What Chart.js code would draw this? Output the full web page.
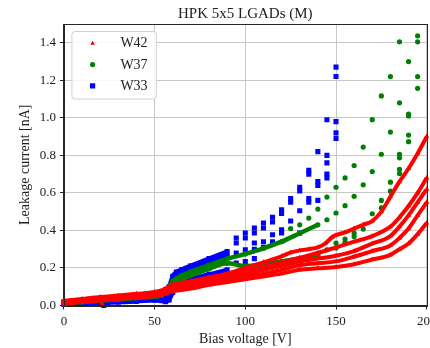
<!DOCTYPE html>
<html>
<head>
<meta charset="utf-8">
<title>HPK 5x5 LGADs (M)</title>
<script src="https://cdn.jsdelivr.net/npm/chart.js@4.4.1/dist/chart.umd.min.js"></script>
<style>
  html, body { margin: 0; padding: 0; background: #fff; overflow: hidden; }
  #wrap { width: 445px; height: 348px; }
</style>
</head>
<body>
<div id="wrap"><canvas id="ivChart" width="445" height="348"></canvas></div>
<script>
/*
 * IV curves, HPK 5x5 LGADs (M)
 */

const wafers = ['W42', 'W37', 'W33'];
const waferColors = ['rgb(255, 0, 0)', 'rgb(0, 128, 0)', 'rgb(0, 0, 255)'];

const xTicks = [0, 50, 100, 150, 200];
const yTicks = [0.0, 0.2, 0.4, 0.6, 0.8, 1.0, 1.2, 1.4];

// W42 - dense sweeps, one array per pad
const w42VoltsA = [0, 10, 20, 30, 40, 50, 55, 60, 70, 80, 90, 100, 110, 120, 125, 130, 135, 140, 144, 148, 150, 155, 160, 165, 170, 175, 180, 185, 190, 195, 200];
const w42PadA = [0.025, 0.035, 0.045, 0.053, 0.062, 0.072, 0.085, 0.11, 0.13, 0.15, 0.17, 0.2, 0.23, 0.262, 0.282, 0.293, 0.30, 0.31, 0.33, 0.365, 0.375, 0.39, 0.41, 0.43, 0.45, 0.50, 0.58, 0.66, 0.73, 0.81, 0.90];
const w42Volts = [0, 10, 20, 30, 40, 50, 55, 60, 70, 80, 90, 100, 110, 120, 130, 140, 150, 160, 170, 180, 185, 190, 195, 200];
const w42PadB = [0.02, 0.03, 0.04, 0.048, 0.056, 0.066, 0.078, 0.10, 0.12, 0.14, 0.16, 0.183, 0.205, 0.23, 0.255, 0.28, 0.31, 0.34, 0.37, 0.42, 0.47, 0.53, 0.60, 0.68];
const w42PadC = [0.017, 0.027, 0.036, 0.044, 0.052, 0.062, 0.072, 0.092, 0.11, 0.13, 0.15, 0.17, 0.19, 0.21, 0.235, 0.25, 0.265, 0.29, 0.33, 0.37, 0.42, 0.48, 0.55, 0.62];
const w42PadD = [0.013, 0.022, 0.031, 0.039, 0.047, 0.056, 0.066, 0.083, 0.10, 0.12, 0.14, 0.155, 0.17, 0.19, 0.215, 0.225, 0.235, 0.26, 0.29, 0.32, 0.36, 0.41, 0.48, 0.55];
const w42PadE = [0.01, 0.018, 0.027, 0.035, 0.042, 0.05, 0.06, 0.075, 0.09, 0.11, 0.125, 0.14, 0.155, 0.17, 0.19, 0.198, 0.205, 0.22, 0.245, 0.27, 0.30, 0.33, 0.38, 0.44];
const w42GlitchV = [21];
const w42GlitchI = [0.01];

// W37 - dense up to 140 V, then 5 V steps
const w37Volts = [0, 10, 20, 30, 40, 50, 54, 57, 60, 65, 70, 80, 90, 100, 110, 120, 130, 140];
const w37PadA = [0.015, 0.022, 0.03, 0.037, 0.045, 0.052, 0.06, 0.09, 0.13, 0.16, 0.18, 0.215, 0.248, 0.275, 0.305, 0.34, 0.385, 0.43];
const w37PadB = [0.01, 0.018, 0.025, 0.032, 0.04, 0.047, 0.055, 0.08, 0.115, 0.14, 0.16, 0.195, 0.225, 0.21, 0.22, 0.235, 0.25, 0.27];
const w37StepVolts = [125, 130, 135, 140, 145, 150, 155, 160, 165, 170, 175, 180, 185, 190, 195];
const w37StepCurrents = [
  [0.41],
  [0.43],
  [0.466],
  [0.514, 0.279, 0.261],
  [0.578, 0.457, 0.297],
  [0.63, 0.493, 0.333, 0.306],
  [0.68, 0.532, 0.354, 0.336],
  [0.746, 0.582, 0.386, 0.368],
  [0.844, 0.643, 0.407],
  [0.99, 0.714, 0.489],
  [1.117, 0.806, 0.56, 0.52],
  [1.22, 0.924, 0.657, 0.609],
  [1.405, 1.08, 0.805, 0.787, 0.725, 0.703],
  [1.30, 1.02, 1.01, 0.908, 0.873],
  [1.437, 1.405, 1.22, 1.157]
];

// W33 - dense up to 90 V, then 5 V steps
const w33Volts = [0, 10, 20, 22, 24, 30, 40, 50, 54, 56, 58, 60, 62, 65, 70, 80, 90];
const w33PadA = [0.02, 0.028, 0.035, 0.035, 0.036, 0.04, 0.045, 0.048, 0.042, 0.05, 0.10, 0.155, 0.178, 0.192, 0.212, 0.25, 0.287];
const w33PadB = [0.005, 0.01, 0.015, 0.0, 0.015, 0.018, 0.022, 0.028, 0.025, 0.02, 0.03, 0.07, 0.10, 0.12, 0.14, 0.165, 0.19];
const w33PadC = [0.015, 0.022, 0.03, 0.03, 0.03, 0.034, 0.04, 0.044, 0.036, 0.04, 0.08, 0.135, 0.16, 0.175, 0.195, 0.232, 0.265];
const w33StepVolts = [95, 100, 105, 110, 115, 120, 125, 130, 135, 140, 145, 150];
const w33StepCurrents = [
  [0.36, 0.333, 0.28, 0.226],
  [0.386, 0.36, 0.297, 0.234],
  [0.413, 0.386, 0.333, 0.30, 0.25],
  [0.44, 0.413, 0.34, 0.31],
  [0.47, 0.445, 0.377, 0.34],
  [0.51, 0.49, 0.404, 0.386],
  [0.57, 0.55, 0.45],
  [0.63, 0.61, 0.505, 0.386],
  [0.72, 0.70, 0.57, 0.55],
  [0.82, 0.66, 0.64, 0.56],
  [0.99, 0.80, 0.76, 0.70, 0.68],
  [1.27, 1.22, 0.98, 0.92, 0.89]
];


const App = (function() {

    const serif = "'Liberation Serif', 'Times New Roman', serif";
    const markers = ['triangle', 'circle', 'rect'];
    const radii = [3, 2.6, 3.6];
    const widths = [4, 4.5, 4.5];

    const curve = function(volts, currents) {
        return volts.map((v, i) => ({ x: v, y: currents[i] }));
    };

    const cloud = function(volts, currents) {
        const pts = [];
        volts.forEach((v, i) => currents[i].forEach(c => pts.push({ x: v, y: c })));
        return pts;
    };

    const sweep = function(w, data) {
        return {
            data: data,
            showLine: true,
            cubicInterpolationMode: 'monotone',
            borderColor: waferColors[w],
            borderWidth: widths[w],
            pointStyle: markers[w],
            pointRadius: radii[w],
            pointBackgroundColor: waferColors[w],
            pointBorderWidth: 0,
            clip: 3
        };
    };

    const steps = function(w, data) {
        return {
            data: data,
            showLine: false,
            pointStyle: markers[w],
            pointRadius: radii[w],
            pointBackgroundColor: waferColors[w],
            pointBorderWidth: 0,
            clip: 3
        };
    };

    // top/right spines like the other two
    const frame = {
        id: 'frame',
        afterDatasetsDraw(chart) {
            const a = chart.chartArea;
            const ctx = chart.ctx;
            ctx.save();
            ctx.strokeStyle = '#262626';
            ctx.lineWidth = 1;
            ctx.strokeRect(Math.round(a.left) + 0.5, Math.round(a.top) + 0.5,
                Math.round(a.right - a.left), Math.round(a.bottom - a.top));
            ctx.restore();
        }
    };

    const legendBox = {
        id: 'legendBox',
        afterDraw(chart) {
            const a = chart.chartArea;
            const ctx = chart.ctx;
            const x = a.left + 8, y = a.top + 7.5;
            ctx.save();
            ctx.beginPath();
            ctx.roundRect(x, y, 84.5, 67.5, 3);
            ctx.fillStyle = 'rgba(255,255,255,0.85)';
            ctx.fill();
            ctx.strokeStyle = '#d0d0d0';
            ctx.lineWidth = 1;
            ctx.stroke();
            wafers.forEach((name, i) => {
                const my = y + 11.8 + i * 21.3;
                const mx = x + 20.7;
                ctx.fillStyle = waferColors[i];
                ctx.beginPath();
                if (i === 0) {
                    ctx.moveTo(mx, my - 2.6);
                    ctx.lineTo(mx + 2.3, my + 1.4);
                    ctx.lineTo(mx - 2.3, my + 1.4);
                    ctx.closePath();
                } else if (i === 1) {
                    ctx.arc(mx, my, 2.6, 0, Math.PI * 2);
                } else {
                    ctx.rect(mx - 2.6, my - 2.6, 5.2, 5.2);
                }
                ctx.fill();
                ctx.fillStyle = '#222';
                ctx.font = '14px ' + serif;
                ctx.textBaseline = 'middle';
                ctx.fillText(name, x + 48.5, my + 0.5);
            });
            ctx.restore();
        }
    };

    const chart = function() {
        const ctx = document.getElementById('ivChart');

        // red first so it is painted on top
        const datasets = [
            sweep(0, curve(w42VoltsA, w42PadA)),
            sweep(0, curve(w42Volts, w42PadB)),
            sweep(0, curve(w42Volts, w42PadC)),
            sweep(0, curve(w42Volts, w42PadD)),
            sweep(0, curve(w42Volts, w42PadE)),
            steps(0, curve(w42GlitchV, w42GlitchI)),
            steps(1, cloud(w37StepVolts, w37StepCurrents)),
            sweep(1, curve(w37Volts, w37PadA)),
            sweep(1, curve(w37Volts, w37PadB)),
            steps(2, cloud(w33StepVolts, w33StepCurrents)),
            sweep(2, curve(w33Volts, w33PadA)),
            sweep(2, curve(w33Volts, w33PadC)),
            sweep(2, curve(w33Volts, w33PadB))
        ];

        new Chart(ctx, {
            type: 'scatter',
            data: { datasets: datasets },
            options: {
                responsive: false,
                animation: false,
                devicePixelRatio: 1,
                events: [],
                layout: { padding: { left: 0, right: 18.3, top: 0, bottom: 0 } },
                plugins: {
                    legend: { display: false },
                    tooltip: { enabled: false },
                    title: {
                        display: true,
                        fullSize: false,
                        text: 'HPK 5x5 LGADs (M)',
                        color: '#222',
                        font: { family: serif, size: 15, weight: 'normal' },
                        padding: { top: 5, bottom: 1 }
                    }
                },
                scales: {
                    x: {
                        type: 'linear',
                        min: 0,
                        max: 200,
                        afterBuildTicks: s => { s.ticks = xTicks.map(v => ({ value: v })); },
                        afterFit: s => { s.height = 42.5; },
                        grid: { color: '#c8c8c8', lineWidth: 1, tickColor: '#262626', tickLength: 4 },
                        border: { color: '#262626', width: 1 },
                        ticks: {
                            color: '#222',
                            font: { family: serif, size: 13 },
                            padding: 4,
                            maxRotation: 0,
                            callback: v => String(v)
                        },
                        title: {
                            display: true,
                            text: 'Bias voltage [V]',
                            color: '#222',
                            font: { family: serif, size: 14 },
                            padding: { top: 0, bottom: 0 }
                        }
                    },
                    y: {
                        type: 'linear',
                        min: 0,
                        max: 1.5,
                        afterBuildTicks: s => { s.ticks = yTicks.map(v => ({ value: v })); },
                        afterFit: s => { s.width = 63.9; },
                        grid: { color: '#c8c8c8', lineWidth: 1, tickColor: '#262626', tickLength: 4 },
                        border: { color: '#262626', width: 1 },
                        ticks: {
                            color: '#222',
                            font: { family: serif, size: 13 },
                            padding: 4,
                            callback: v => Number(v).toFixed(1)
                        },
                        title: {
                            display: true,
                            text: 'Leakage current [nA]',
                            color: '#222',
                            font: { family: serif, size: 14 },
                            padding: { top: 16.6, bottom: 0 }
                        }
                    }
                }
            },
            plugins: [frame, legendBox]
        });
    };

    const init = function() {
        chart();
    };

    return {
        init: init
    };

})();

App.init();
</script>
</body>
</html>
